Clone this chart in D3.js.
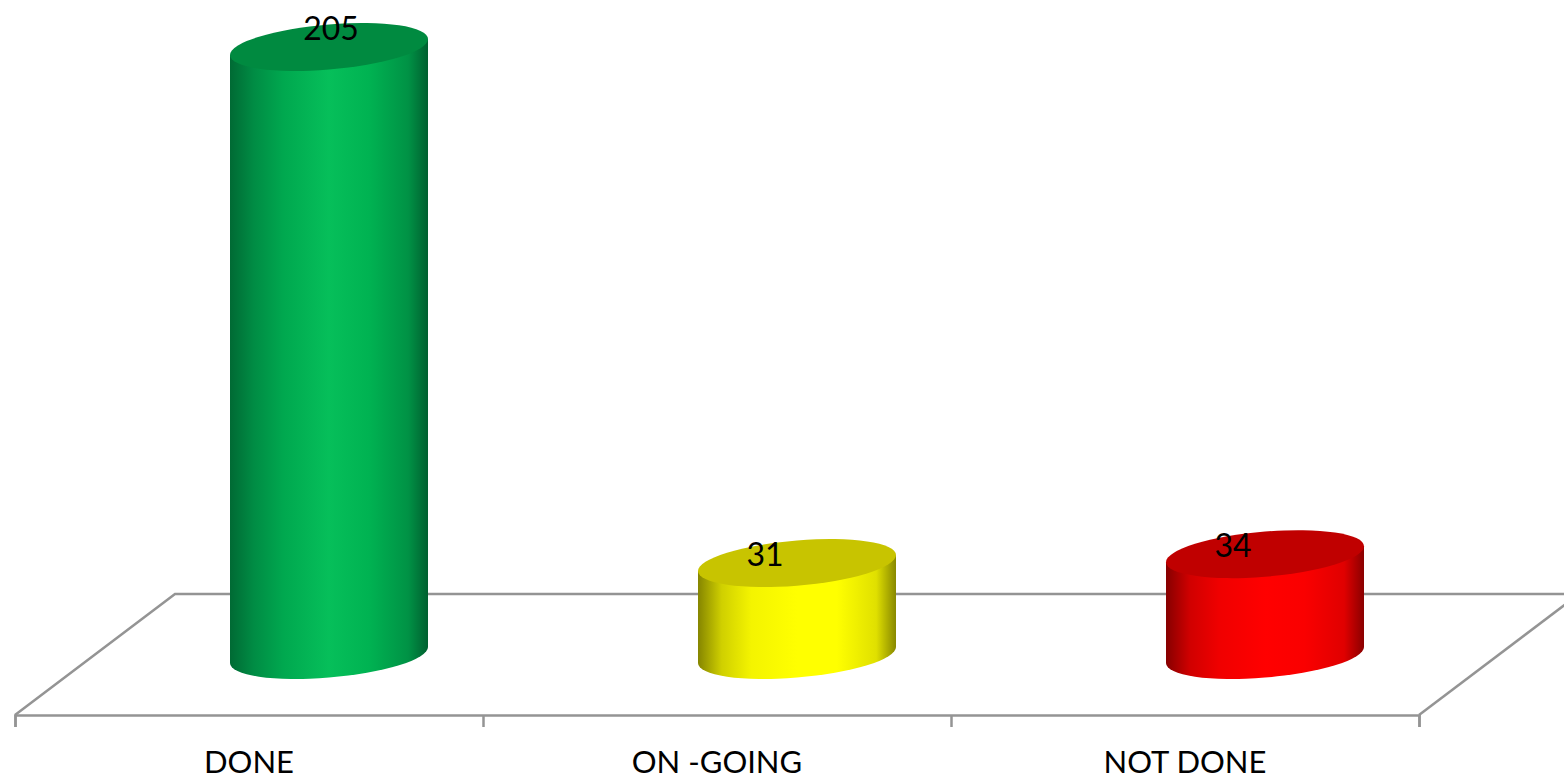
<!DOCTYPE html>
<html>
<head>
<meta charset="utf-8">
<script src="https://cdn.jsdelivr.net/npm/d3@7"></script>
<style>
  html, body { margin: 0; padding: 0; background: #fff; overflow: hidden; }
  svg { display: block; }
  text { font-family: Lato, sans-serif; fill: #000; }
</style>
</head>
<body>
<div id="chart"></div>
<script>
const categories = ['DONE', 'ON -GOING', 'NOT DONE'];
const values = [205, 31, 34];
const sideColors = [
  ['#006a34', '#008c44', '#00a84f', '#06bf5a', '#00b352', '#009245', '#006030'],
  ['#858500', '#d0d000', '#f4f400', '#ffff00', '#ffff00', '#e0e000', '#888800'],
  ['#860000', '#d00000', '#f00000', '#ff0000', '#fa0000', '#e00000', '#8a0000']
];
const topColors = ['#008a40', '#c8c400', '#c00000'];

const width = 1564, height = 779;

// floor corners of the fake 3d plane
const frontY = 715, backY = 594, depthX = 160;
const left = 15, right = 1419;

const svg = d3.select('#chart').append('svg')
  .attr('width', width)
  .attr('height', height);

const defs = svg.append('defs');

const x = d3.scaleBand().domain(categories).range([left, right]);
const xEdge = d3.scaleLinear().domain([0, 3]).range([left, right]);
const y = d3.scaleLinear().domain([0, 205]).range([655, 47]);

// cylinder shape
const rx = 99, ry = 22.6, tilt = 8;
const barX = d => x(d) + x.bandwidth() / 2 + depthX / 2;

// floor
const gridColor = '#949494';
svg.append('path')
  .attr('fill', 'none')
  .attr('stroke', gridColor)
  .attr('stroke-width', 2.5)
  .attr('d', `M${left},${frontY}L${left + depthX},${backY}L${right + depthX},${backY}`);
svg.append('path')
  .attr('fill', 'none')
  .attr('stroke', gridColor)
  .attr('stroke-width', 2.5)
  .attr('d', `M${right},${frontY}L${right + depthX},${backY}`);

// ticks on the front edge
const tickAxis = svg.append('g')
  .attr('transform', `translate(0,${frontY})`)
  .call(d3.axisBottom(xEdge).ticks(3).tickSize(12).tickSizeOuter(12).tickFormat(''));
tickAxis.selectAll('path, line')
  .attr('stroke', gridColor)
  .attr('stroke-width', 2.5);

// category labels
const labelAxis = svg.append('g')
  .attr('transform', `translate(0,${frontY})`)
  .call(d3.axisBottom(x).tickSize(0).tickPadding(36));
labelAxis.select('.domain').remove();
labelAxis.selectAll('text')
  .attr('font-size', 31)
  .style('font-family', 'Lato, sans-serif')
  .attr('fill', '#000');

// cylinders
categories.forEach((c, i) => {
  const gradId = 'side' + i;
  const grad = defs.append('linearGradient')
    .attr('id', gradId)
    .attr('x1', 0).attr('x2', 1)
    .attr('y1', 0).attr('y2', 0);
  const stops = [0, 0.12, 0.27, 0.5, 0.7, 0.9, 1];
  sideColors[i].forEach((col, j) => {
    grad.append('stop').attr('offset', stops[j]).attr('stop-color', col);
  });

  const topY = y(values[i]);
  const baseY = y(0);

  // skew instead of rotate so the sides stay vertical
  const g = svg.append('g')
    .attr('transform', `matrix(1,${-tilt / rx},0,1,${barX(c)},0)`);

  g.append('path')
    .attr('fill', `url(#${gradId})`)
    .attr('d', `M${-rx},${topY}L${-rx},${baseY}A${rx},${ry} 0 0 0 ${rx},${baseY}L${rx},${topY}Z`);

  g.append('ellipse')
    .attr('cx', 0)
    .attr('cy', topY)
    .attr('rx', rx)
    .attr('ry', ry)
    .attr('fill', topColors[i]);
});

// value labels
svg.selectAll('.value')
  .data(values)
  .enter()
  .append('text')
  .attr('class', 'value')
  .attr('x', (d, i) => barX(categories[i]) + (d > 100 ? 2 : -32))
  .attr('y', d => y(d) + (d > 100 ? -7 : 3))
  .attr('text-anchor', 'middle')
  .attr('font-size', 32)
  .text(d => d);
</script>
</body>
</html>
